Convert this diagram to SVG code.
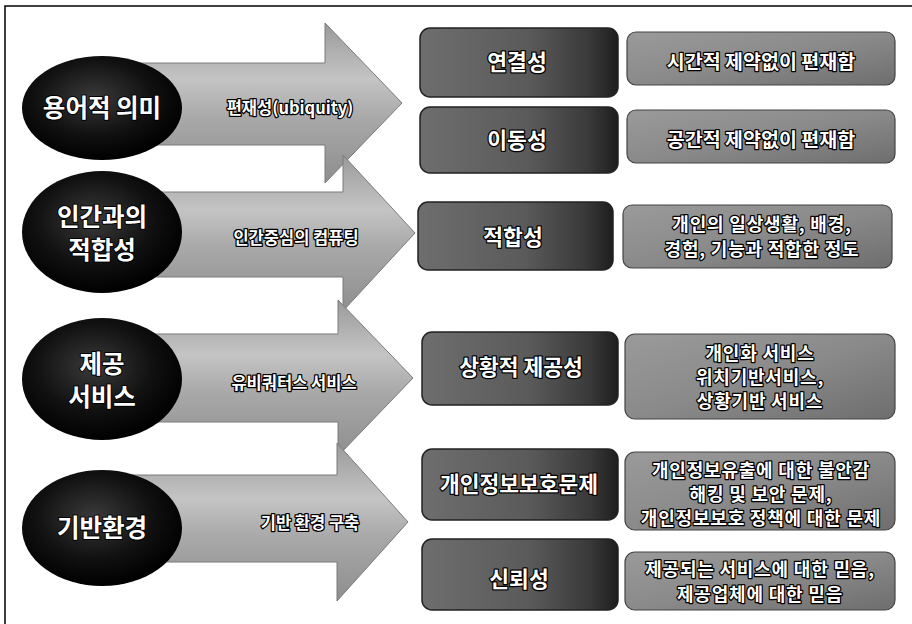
<svg xmlns="http://www.w3.org/2000/svg" width="912" height="624" viewBox="0 0 912 624">
<defs>
  <linearGradient id="arrowG" x1="0" y1="0" x2="0" y2="1">
    <stop offset="0" stop-color="#9a9a9a"/>
    <stop offset="0.35" stop-color="#c4c4c4"/>
    <stop offset="0.6" stop-color="#a8a8a8"/>
    <stop offset="1" stop-color="#8e8e8e"/>
  </linearGradient>
  <radialGradient id="circG" cx="0.45" cy="0.4" r="0.6">
    <stop offset="0" stop-color="#3a3a3a"/>
    <stop offset="0.6" stop-color="#111"/>
    <stop offset="1" stop-color="#000"/>
  </radialGradient>
  <linearGradient id="midG" x1="0" y1="0" x2="1" y2="0">
    <stop offset="0" stop-color="#6e6e6e"/>
    <stop offset="0.55" stop-color="#5a5a5a"/>
    <stop offset="0.85" stop-color="#3a3a3a"/>
    <stop offset="1" stop-color="#1e1e1e"/>
  </linearGradient>
  <linearGradient id="rightG" x1="0" y1="0" x2="1" y2="1">
    <stop offset="0" stop-color="#9a9a9a"/>
    <stop offset="0.5" stop-color="#8a8a8a"/>
    <stop offset="1" stop-color="#6e6e6e"/>
  </linearGradient>
</defs>
<style>
  .arrow { fill: url(#arrowG); stroke: #7a7a7a; stroke-width: 1; }
  .circ { fill: url(#circG); }
  .mid { fill: url(#midG); stroke: #222; stroke-width: 1.5; }
  .rbox { fill: url(#rightG); stroke: #444; stroke-width: 1.2; }
  text { font-family: "Noto Sans CJK KR", "Noto Sans", sans-serif; font-weight: bold; fill: #fff; stroke: #000; paint-order: stroke; stroke-linejoin: round; text-anchor: middle; }
  .ct { font-size: 24.5px; stroke-width: 2; }
  .at { font-size: 16.5px; stroke-width: 2.5; }
  .mt { font-size: 21.5px; stroke-width: 2.5; }
  .rt { font-size: 19.5px; stroke-width: 2.5; }
  .rs { font-size: 18px; stroke-width: 2.5; letter-spacing: 0.8px; }
</style>
<rect width="912" height="624" fill="#fff"/>
<path d="M5,624 V6 H912" fill="none" stroke="#000" stroke-width="1.5"/>

<g id="connectors">
  <polygon class="arrow" points="110,63 325,63 325,23 402,103 325,183 325,145 110,145"/>
  <polygon class="arrow" points="110,192 343,192 343,155 415,233 343,311 343,277 110,277"/>
  <polygon class="arrow" points="110,334 338,334 338,300 413,378 338,456 338,422 110,422"/>
  <polygon class="arrow" points="110,475 337,475 337,443 408,522 337,601 337,562 110,562"/>
  <text class="at" x="290" y="114">편재성(ubiquity)</text>
  <text class="at" x="296" y="244">인간중심의 컴퓨팅</text>
  <text class="at" x="294" y="389">유비쿼터스 서비스</text>
  <text class="at" x="310" y="529">기반 환경 구축</text>
</g>

<g id="c1"><ellipse class="circ" cx="102" cy="108" rx="80" ry="52"/><text class="ct" x="102" y="117">용어적 의미</text></g>
<g id="c2"><ellipse class="circ" cx="102" cy="232" rx="80" ry="61"/><text class="ct" x="102" y="226">인간과의</text><text class="ct" x="102" y="259">적합성</text></g>
<g id="c3"><ellipse class="circ" cx="102" cy="379" rx="80" ry="61"/><text class="ct" x="102" y="373">제공</text><text class="ct" x="102" y="406">서비스</text></g>
<g id="c4"><ellipse class="circ" cx="102" cy="528" rx="80" ry="58"/><text class="ct" x="102" y="537">기반환경</text></g>

<g id="m1"><rect class="mid" x="420" y="28" width="198" height="69" rx="10"/><text class="mt" x="517" y="70">연결성</text></g>
<g id="m2"><rect class="mid" x="420" y="107" width="198" height="66" rx="10"/><text class="mt" x="517" y="148">이동성</text></g>
<g id="m3"><rect class="mid" x="418" y="202" width="195" height="68" rx="10"/><text class="mt" x="513" y="245">적합성</text></g>
<g id="m4"><rect class="mid" x="422" y="332" width="196" height="73" rx="10"/><text class="mt" x="521" y="375">상황적 제공성</text></g>
<g id="m5"><rect class="mid" x="422" y="449" width="196" height="71" rx="10"/><text class="mt" x="519" y="492">개인정보보호문제</text></g>
<g id="m6"><rect class="mid" x="422" y="539" width="196" height="71" rx="10"/><text class="mt" x="519" y="587">신뢰성</text></g>

<g id="r1"><rect class="rbox" x="627" y="32" width="268" height="53" rx="9"/><text class="rt" x="761" y="69">시간적 제약없이 편재함</text></g>
<g id="r2"><rect class="rbox" x="627" y="110" width="268" height="53" rx="9"/><text class="rt" x="761" y="147">공간적 제약없이 편재함</text></g>
<g id="r3"><rect class="rbox" x="623" y="205" width="269" height="63" rx="9"/><text class="rs" x="762" y="231">개인의 일상생활, 배경,</text><text class="rs" x="762" y="256">경험, 기능과 적합한 정도</text></g>
<g id="r4"><rect class="rbox" x="625" y="334" width="270" height="85" rx="10"/><text class="rs" x="760" y="360">개인화 서비스</text><text class="rs" x="760" y="384">위치기반서비스,</text><text class="rs" x="760" y="408">상황기반 서비스</text></g>
<g id="r5"><rect class="rbox" x="625" y="452" width="270" height="78" rx="10"/><text class="rs" x="761" y="477">개인정보유출에 대한 불안감</text><text class="rs" x="761" y="501">해킹 및 보안 문제,</text><text class="rs" x="761" y="525">개인정보보호 정책에 대한 문제</text></g>
<g id="r6"><rect class="rbox" x="625" y="552" width="270" height="58" rx="10"/><text class="rs" x="760" y="576">제공되는 서비스에 대한 믿음,</text><text class="rs" x="760" y="601">제공업체에 대한 믿음</text></g>
</svg>
